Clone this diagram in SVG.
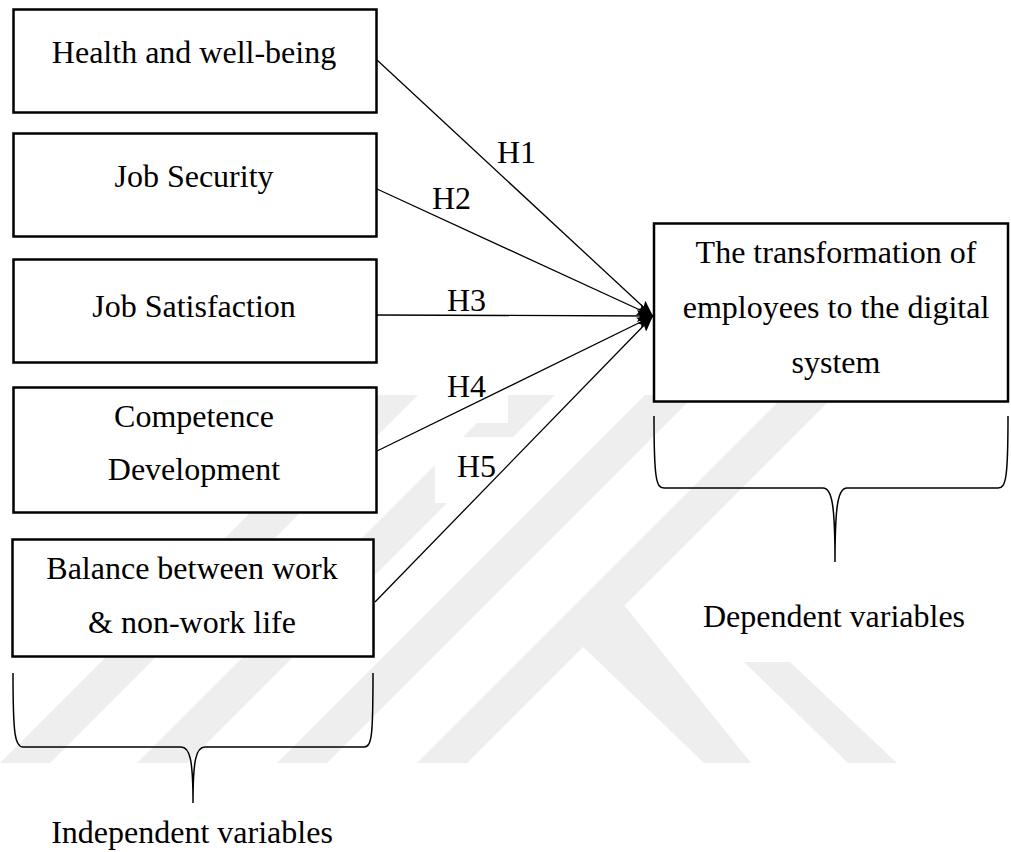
<svg xmlns="http://www.w3.org/2000/svg" width="1011" height="852" viewBox="0 0 1011 852">
  <style>
    .box { fill: #ffffff; stroke: #000000; stroke-width: 2.5; }
    .lbl { font-size: 32px; fill: #000000; text-anchor: middle; }
    .hyp { font-size: 32px; fill: #000000; }
    .link { stroke: #000000; stroke-width: 1.3; fill: none; marker-end: url(#head); }
    .brace { stroke: #000000; stroke-width: 1.5; fill: none; }
    .mark { fill: #eeeeee; }
  </style>
  <defs>
    <marker id="head" viewBox="0 0 16 12" markerWidth="16" markerHeight="12" refX="16" refY="6" orient="auto" markerUnits="userSpaceOnUse">
      <path d="M0,0 L16,6 L0,12 L3,6 Z" fill="#000000"/>
    </marker>
  </defs>
  <rect width="1011" height="852" fill="#ffffff"/>

  <!-- faint background emblem -->
  <g id="emblem">
    <polygon class="mark" points="0,763 50,763 418,395 368,395"/>
    <polygon class="mark" points="137,763 187,763 555,395 505,395"/>
    <polygon class="mark" points="277,763 327,763 695,395 645,395"/>
    <polygon class="mark" points="417,763 467,763 835,395 785,395"/>
    <polygon class="mark" points="578,642 620,600 751,763 704,763"/>
    <polygon class="mark" points="744,662 790,662 897,763 848,763"/>
  </g>

  <g font-family="'Liberation Serif', 'Times New Roman', 'DejaVu Serif', serif">
    <!-- independent variables -->
    <g id="node-health">
      <rect class="box" x="13.5" y="9.5" width="363" height="103"/>
      <text class="lbl" x="194" y="63">Health and well-being</text>
    </g>
    <g id="node-security">
      <rect class="box" x="13.5" y="133.5" width="363" height="103"/>
      <text class="lbl" x="194" y="187">Job Security</text>
    </g>
    <g id="node-satisfaction">
      <rect class="box" x="13.5" y="259.5" width="363" height="103"/>
      <text class="lbl" x="194" y="317">Job Satisfaction</text>
    </g>
    <g id="node-competence">
      <rect class="box" x="13.5" y="387.5" width="363" height="125"/>
      <text class="lbl" x="194" y="427">Competence</text>
      <text class="lbl" x="194" y="480">Development</text>
    </g>
    <g id="node-balance">
      <rect class="box" x="12.5" y="539.5" width="361" height="117"/>
      <text class="lbl" x="192" y="579">Balance between work</text>
      <text class="lbl" x="192" y="633">&amp; non-work life</text>
    </g>

    <!-- dependent variable -->
    <g id="node-transformation">
      <rect class="box" x="654" y="223.5" width="354" height="178"/>
      <text class="lbl" x="836" y="263">The transformation of</text>
      <text class="lbl" x="836" y="318">employees to the digital</text>
      <text class="lbl" x="836" y="373">system</text>
    </g>

    <!-- hypothesis paths -->
    <g id="connectors">
      <rect x="425" y="373" width="83" height="50" fill="#ffffff"/>
      <rect x="435" y="437" width="82" height="66" fill="#ffffff"/>
      <line class="link" x1="377" y1="60" x2="653" y2="316"/>
      <line class="link" x1="377" y1="189" x2="653" y2="316"/>
      <line class="link" x1="377" y1="315" x2="653" y2="316"/>
      <line class="link" x1="377" y1="451" x2="653" y2="316"/>
      <line class="link" x1="375" y1="602" x2="653" y2="316"/>
      <text class="hyp" x="497" y="163">H1</text>
      <text class="hyp" x="432" y="209">H2</text>
      <text class="hyp" x="447" y="311">H3</text>
      <text class="hyp" x="447" y="397">H4</text>
      <text class="hyp" x="457" y="477">H5</text>
    </g>

    <!-- group braces and captions -->
    <g id="group-independent">
      <path class="brace" d="M13,673 C13,735 15,747 23,747 L181,747 C190,747 193,760 193,803 C193,760 196,747 205,747 L364,747 C372,747 373,735 373,673"/>
      <text class="lbl" x="192" y="843">Independent variables</text>
    </g>
    <g id="group-dependent">
      <path class="brace" d="M654,416 C654,478 656,488 664,488 L823,488 C832,488 835,505 835,562 C835,505 838,488 847,488 L998,488 C1006,488 1008,478 1008,416"/>
      <text class="lbl" x="834" y="627">Dependent variables</text>
    </g>
  </g>
</svg>
